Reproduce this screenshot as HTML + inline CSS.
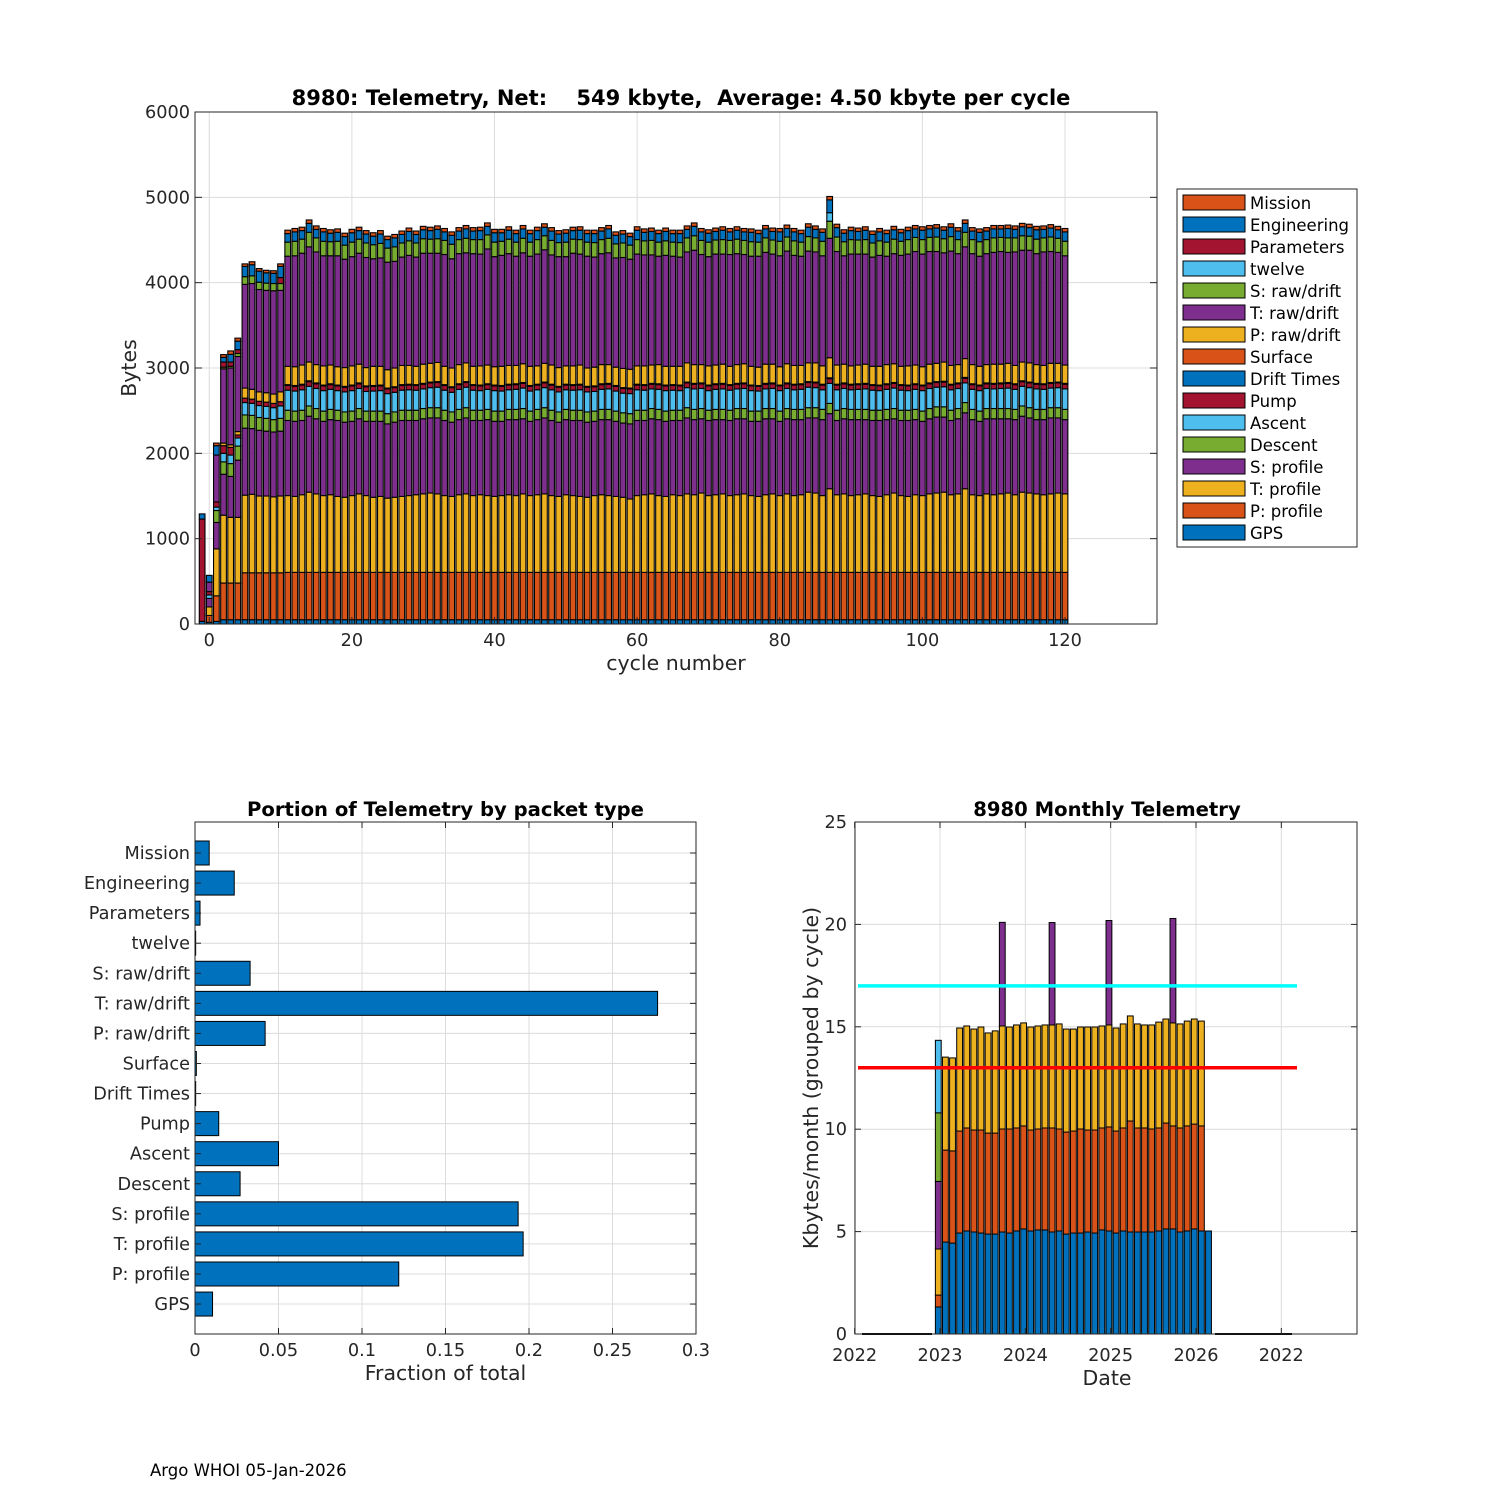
<!DOCTYPE html>
<html><head><meta charset="utf-8"><style>
html,body{margin:0;padding:0;background:#fff;}
svg{display:block;font-family:"DejaVu Sans","Liberation Sans",sans-serif;}
</style></head><body>
<svg id="s" width="1500" height="1500" viewBox="0 0 1500 1500" xmlns="http://www.w3.org/2000/svg">
<rect x="0" y="0" width="1500" height="1500" fill="#fff"/>
<text x="150" y="1476" font-size="16.5" fill="#000">Argo WHOI 05-Jan-2026</text>
</svg>
<script>
// ---------- Top chart data (cycles -1..120) ----------
const cycles = [-1,0,1,2,3,4,5,6,7,8,9,10,
11,12,13,14,15,16,17,18,19,20,21,22,23,24,25,26,27,28,29,30,31,32,33,34,35,36,37,38,39,40,
41,42,43,44,45,46,47,48,49,50,51,52,53,54,55,56,57,58,59,60,61,62,63,64,65,66,67,68,69,70,
71,72,73,74,75,76,77,78,79,80,81,82,83,84,85,86,87,88,89,90,91,92,93,94,95,96,97,98,99,100,
101,102,103,104,105,106,107,108,109,110,111,112,113,114,115,116,117,118,119,120];
const seriesNames = ["GPS","P: profile","T: profile","S: profile","Descent","Ascent","Pump","Drift Times","Surface","P: raw/drift","T: raw/drift","S: raw/drift","twelve","Parameters","Engineering","Mission"];
const seriesColors = ["#0072BD","#D95319","#EDB120","#7E2F8E","#77AC30","#4DBEEE","#A2142F","#0072BD","#D95319","#EDB120","#7E2F8E","#77AC30","#4DBEEE","#A2142F","#0072BD","#D95319"];
const gps = [30,20,30,50,50,50,50,50,50,50,50,50,
50,50,50,50,50,50,50,50,50,50, 50,50,50,50,50,50,50,50,50,50, 50,50,50,50,50,50,50,50,50,50, 50,50,50,50,50,50,50,50,50,50,
50,50,50,50,50,50,50,50,50,50, 50,50,50,50,50,50,50,50,50,50, 50,50,50,50,50,50,50,50,50,50, 50,50,50,50,50,50,50,50,50,50,
50,50,50,50,50,50,50,50,50,50, 50,50,50,50,50,50,50,50,50,50, 50,50,50,50,50,50,50,50,50,50];
const pProfile = [0,80,300,430,430,430,550,550,550,550,550,550,
555,555,555,555,555,555,555,555,555,555, 555,555,555,555,555,555,555,555,555,555, 555,555,555,555,555,555,555,555,555,555, 555,555,555,555,555,555,555,555,555,555,
555,555,555,555,555,555,555,555,555,555, 555,555,555,555,555,555,555,555,555,555, 555,555,555,555,555,555,555,555,555,555, 555,555,555,555,555,555,555,555,555,555,
555,555,555,555,555,555,555,555,555,555, 555,555,555,555,555,555,555,555,555,555, 555,555,555,555,555,555,555,555,555,555];
const tProfile = [0,100,550,795,770,770,910,920,900,900,890,900,
900,890,910,940,920,900,910,890,880,900, 920,900,880,890,870,880,890,900,910,920, 930,920,900,890,910,920,900,910,900,890, 900,910,900,920,900,910,920,900,890,910,
900,890,880,900,910,900,890,880,860,900, 910,920,900,890,910,900,920,910,930,900, 910,920,900,910,920,900,890,910,920,900, 920,900,910,940,930,900,980,910,920,900,
910,920,900,890,910,930,900,890,910,900, 920,930,940,910,920,980,910,900,920,910, 920,930,910,940,930,920,910,920,930,920];
const sProfile = [0,100,310,480,480,670,785,770,770,760,760,760,
880,880,870,890,880,870,880,890,880,870, 880,870,890,880,870,880,890,880,870,880, 880,890,880,870,880,890,880,870,890,880, 870,880,890,880,870,880,890,880,870,880,
880,890,880,870,880,890,880,870,880,880, 870,880,890,880,870,880,890,880,870,880, 880,870,880,890,880,870,880,890,880,870, 880,890,880,870,880,890,880,870,880,890,
880,870,880,890,880,870,880,890,880,870, 880,890,880,870,880,890,880,870,880,890, 880,870,880,890,880,870,880,890,880,870];
const descent = [0,0,140,145,150,165,155,155,150,150,145,150,
120,120,120,120,120,120,120,120,120,120, 120,120,120,120,120,120,120,120,120,120, 120,120,120,120,120,120,120,120,120,120, 120,120,120,120,120,120,120,120,120,120,
120,120,120,120,120,120,120,120,120,120, 120,120,120,120,120,120,120,120,120,120, 120,120,120,120,120,120,120,120,120,120, 120,120,120,120,120,120,120,120,120,120,
120,120,120,120,120,120,120,120,120,120, 120,120,120,120,120,120,120,120,120,120, 120,120,120,120,120,120,120,120,120,120];
const ascent = [0,40,40,100,100,95,145,140,140,140,140,145,
235,235,240,230,235,240,235,230,235,240, 235,230,235,240,235,230,235,240,235,230, 235,240,235,230,235,240,235,230,235,240, 235,230,235,240,235,230,235,240,235,230,
235,240,235,230,235,240,235,230,235,240, 235,230,235,240,235,230,235,240,235,230, 235,240,235,230,235,240,235,230,235,240, 235,230,235,240,235,230,235,240,235,230,
235,240,235,230,235,240,235,230,235,240, 235,230,235,240,235,230,235,240,235,230, 235,240,235,230,235,240,235,230,235,240];
const pump = [0,40,60,90,90,35,52,50,50,50,50,50,
55,55,55,55,55,55,55,55,55,55, 55,55,55,55,55,55,55,55,55,55, 55,55,55,55,55,55,55,55,55,55, 55,55,55,55,55,55,55,55,55,55,
55,55,55,55,55,55,55,55,55,55, 55,55,55,55,55,55,55,55,55,55, 55,55,55,55,55,55,55,55,55,55, 55,55,55,55,55,55,55,55,55,55,
55,55,55,55,55,55,55,55,55,55, 55,55,55,55,55,55,55,55,55,55, 55,55,55,55,55,55,55,55,55,55];
const driftTimes = [0,0,0,0,0,0,0,0,0,0,0,0,
5,5,5,5,5,5,5,5,5,5, 5,5,5,5,5,5,5,5,5,5, 5,5,5,5,5,5,5,5,5,5, 5,5,5,5,5,5,5,5,5,5,
5,5,5,5,5,5,5,5,5,5, 5,5,5,5,5,5,5,5,5,5, 5,5,5,5,5,5,5,5,5,5, 5,5,5,5,5,5,5,5,5,5,
5,5,5,5,5,5,5,5,5,5, 5,5,5,5,5,5,5,5,5,5, 5,5,5,5,5,5,5,5,5,5];
const surface = [0,0,0,0,0,0,0,0,0,0,0,0,
5,5,5,5,5,5,5,5,5,5, 5,5,5,5,5,5,5,5,5,5, 5,5,5,5,5,5,5,5,5,5, 5,5,5,5,5,5,5,5,5,5,
5,5,5,5,5,5,5,5,5,5, 5,5,5,5,5,5,5,5,5,5, 5,5,5,5,5,5,5,5,5,5, 5,5,5,5,5,5,5,5,5,5,
5,5,5,5,5,5,5,5,5,5, 5,5,5,5,5,5,5,5,5,5, 5,5,5,5,5,5,5,5,5,5];
const pRaw = [0,0,0,30,30,40,118,115,110,110,110,115,
215,220,225,220,215,225,220,215,220,225, 220,215,225,220,215,220,225,220,215,225, 220,225,215,220,225,220,215,225,220,215, 225,220,215,220,225,215,220,225,220,215,
220,225,215,220,225,220,215,225,220,215, 220,215,225,220,215,220,225,220,215,225, 220,225,215,220,225,220,215,225,220,215, 225,220,215,220,225,215,235,225,220,215,
220,225,215,220,225,220,215,225,220,215, 220,215,225,220,215,220,225,220,215,225, 220,225,215,220,225,220,215,225,220,215];
const tRaw = [0,110,550,870,900,880,1215,1240,1200,1200,1210,1190,
1290,1300,1310,1350,1320,1290,1280,1300,1270,1280,
1300,1290,1260,1270,1260,1250,1270,1290,1280,1300,
1290,1280,1310,1280,1300,1290,1320,1310,1360,1290,
1300,1310,1280,1300,1290,1310,1330,1290,1300,1280,
1320,1300,1310,1290,1300,1310,1280,1300,1290,1310,
1300,1290,1270,1300,1290,1280,1300,1340,1290,1280,
1300,1290,1310,1300,1280,1290,1300,1310,1290,1300,
1320,1290,1280,1310,1300,1290,1400,1330,1270,1310,
1300,1290,1280,1300,1270,1290,1300,1310,1330,1320,
1320,1310,1280,1340,1300,1310,1300,1290,1300,1310,
1320,1300,1330,1310,1320,1300,1330,1310,1300,1280];
const sRaw = [0,0,0,20,20,35,90,90,85,85,85,80,
165,170,165,170,165,170,165,170,165,170, 165,170,165,170,165,170,165,170,165,170, 165,170,165,170,165,170,165,170,165,170, 165,170,165,170,165,170,165,170,165,170,
165,170,165,170,165,170,165,170,165,170, 165,170,165,170,165,170,165,170,165,170, 165,170,165,170,165,170,165,170,165,170, 165,170,165,170,165,170,200,170,165,170,
165,170,165,170,165,170,165,170,165,170, 165,170,165,170,165,170,165,170,165,170, 165,170,165,170,165,170,165,170,165,170];
const twelve = [0,0,0,0,0,0,0,0,0,0,0,0,
0,0,0,0,0,0,0,0,0,0, 0,0,0,0,0,0,0,0,0,0, 0,0,0,0,0,0,0,0,0,0, 0,0,0,0,0,0,0,0,0,0,
0,0,0,0,0,0,0,0,0,0, 0,0,0,0,0,0,0,0,0,0, 0,0,0,0,0,0,0,0,0,0, 0,0,0,0,0,0,100,0,0,0,
0,0,0,0,0,0,0,0,0,0, 0,0,0,0,0,0,0,0,0,0, 0,0,0,0,0,0,0,0,0,0];
const parameters = [1200,0,0,60,50,45,0,0,0,0,0,70,
0,0,0,0,0,0,0,0,0,0, 0,0,0,0,0,0,0,0,0,0, 0,0,0,0,0,0,0,0,0,0, 0,0,0,0,0,0,0,0,0,0,
0,0,0,0,0,0,0,0,0,0, 0,0,0,0,0,0,0,0,0,0, 0,0,0,0,0,0,0,0,0,0, 0,0,0,0,0,0,0,0,0,0,
0,0,0,0,0,0,0,0,0,0, 0,0,0,0,0,0,0,0,0,0, 0,0,0,0,0,0,0,0,0,0];
const engineering = [60,80,110,55,90,100,120,130,130,120,120,130,
100,110,100,105,100,110,100,105,100,110, 100,105,100,110,100,105,100,110,100,105, 100,110,100,105,100,110,100,105,100,110, 100,105,100,110,100,105,100,110,100,105,
100,110,100,105,100,110,100,105,100,110, 100,105,100,110,100,105,100,110,100,105, 100,110,100,105,100,110,100,105,100,110, 100,105,100,110,100,105,150,110,100,105,
100,110,100,105,100,110,100,105,100,110, 100,105,100,110,100,105,100,110,100,105, 100,110,100,105,100,110,100,105,100,110];
const mission = [0,0,30,32,40,35,30,35,30,30,30,30,
40,40,40,40,40,40,40,40,40,40, 40,40,40,40,40,40,40,40,40,40, 40,40,40,40,40,40,40,40,40,40, 40,40,40,40,40,40,40,40,40,40,
40,40,40,40,40,40,40,40,40,40, 40,40,40,40,40,40,40,40,40,40, 40,40,40,40,40,40,40,40,40,40, 40,40,40,40,40,40,40,40,40,40,
40,40,40,40,40,40,40,40,40,40, 40,40,40,40,40,40,40,40,40,40, 40,40,40,40,40,40,40,40,40,40];
const topYTicks = [0,1000,2000,3000,4000,5000,6000];
const topXTicks = [0,20,40,60,80,100,120];

// ---------- Fraction chart data ----------
const fracCats = ["Mission","Engineering","Parameters","twelve","S: raw/drift","T: raw/drift","P: raw/drift","Surface","Drift Times","Pump","Ascent","Descent","S: profile","T: profile","P: profile","GPS"];
const fracVals = [0.0085,0.0235,0.003,0.0004,0.033,0.277,0.042,0.0008,0.0004,0.0142,0.050,0.027,0.1935,0.1965,0.122,0.0105];
const fracTicks = [0,0.05,0.1,0.15,0.2,0.25,0.3];
const fracTickLabels = ["0","0.05","0.1","0.15","0.2","0.25","0.3"];

// ---------- Monthly chart data (Dec 2022 .. Feb 2026) ----------
const monthStart = 2022.98;
const mBlue = [1.32,4.49,4.44,4.93,5.03,4.98,4.93,4.88,4.88,4.98,4.93,5.03,5.13,5.03,5.08,5.08,4.98,5.03,4.88,4.93,4.93,4.98,4.93,5.08,5.03,4.93,5.03,4.98,4.98,4.98,4.98,5.03,5.13,5.13,4.98,5.03,5.13,5.03,5.03];
const mOrange = [0.58,4.49,4.50,4.98,5.03,4.98,5.03,4.93,4.93,5.03,5.08,5.03,5.03,4.93,4.93,4.98,5.08,4.98,4.98,4.98,5.08,4.98,5.03,4.98,5.08,4.98,5.03,5.42,5.08,5.08,5.03,5.03,5.17,5.03,5.08,5.13,5.12,5.13,0];
const mYellow = [2.25,4.54,4.54,5.03,4.98,4.93,5.03,4.89,4.99,5.03,4.98,5.03,5.03,5.03,5.03,5.03,5.03,5.13,5.03,4.98,4.98,5.03,5.03,4.98,4.98,5.03,5.08,5.13,5.08,5.03,5.08,5.17,5.08,5.03,5.08,5.12,5.13,5.12,0];
const mPurple = [3.3,0,0,0,0,0,0,0,0,5.06,0,0,0,0,0,0,5.0,0,0,0,0,0,0,0,5.1,0,0,0,0,0,0,0,0,5.1,0,0,0,0,0];
const mGreen = [3.35,0,0,0,0,0,0,0,0,0,0,0,0,0,0,0,0,0,0,0,0,0,0,0,0,0,0,0,0,0,0,0,0,0,0,0,0,0,0];
const mLight = [3.54,0,0,0,0,0,0,0,0,0,0,0,0,0,0,0,0,0,0,0,0,0,0,0,0,0,0,0,0,0,0,0,0,0,0,0,0,0,0];
const mYTicks = [0,5,10,15,20,25];
const mXTicks = [2022,2023,2024,2025,2026,2027];
const mXTickLabels = ["2022","2023","2024","2025","2026","2022"];
const limitCyan = 17;
const limitRed = 13;

const NS = "http://www.w3.org/2000/svg";
const svg = document.getElementById('s');
function E(tag, parent){ const e = document.createElementNS(NS, tag); (parent||svg).appendChild(e); return e; }
function A(e, o){ for (const k in o) e.setAttribute(k, o[k]); return e; }
const AX = "#262626", GRID = "#dcdcdc";
const TF = 17.7, LF = 20.5;

// ================= TOP CHART =================
(function(){
  const L=195,R=1157,T=112,B=624;
  const xmin=-2, xmax=132.9, ymax=6000;
  const xs = v => L + (v-xmin)/(xmax-xmin)*(R-L);
  const ys = v => B - v/ymax*(B-T);
  const g = E('g');  
  const bg = A(E('rect',g),{x:L,y:T,width:R-L,height:B-T,fill:'#fff'});
   
  topYTicks.forEach(t=>{
    if(t>0&&t<ymax){ const l=A(E('line',g),{x1:L,x2:R,y1:ys(t),y2:ys(t),stroke:GRID,'stroke-width':1});
        }
  });
  topXTicks.forEach(t=>{
    const l=A(E('line',g),{x1:xs(t),x2:xs(t),y1:T,y2:B,stroke:GRID,'stroke-width':1});
     
  });
  const series=[gps,pProfile,tProfile,sProfile,descent,ascent,pump,driftTimes,surface,pRaw,tRaw,sRaw,twelve,parameters,engineering,mission];
  const bw = 0.8*(xs(1)-xs(0));
  cycles.forEach((c,i)=>{
    let acc=0;
    series.forEach((s,k)=>{
      const v=s[i]; if(!v) return;
      const r=A(E('rect',g),{x:xs(c)-bw/2,y:ys(acc+v),width:bw,height:ys(acc)-ys(acc+v),fill:seriesColors[k],stroke:'#000','stroke-width':1.1});
      
      
      acc+=v;
    });
  });
  const box=A(E('rect',g),{x:L,y:T,width:R-L,height:B-T,fill:'none',stroke:AX,'stroke-width':1});
   
  topYTicks.forEach(t=>{
    const tk=A(E('line',g),{x1:L,x2:L+7,y1:ys(t),y2:ys(t),stroke:AX});  
    const tk2=A(E('line',g),{x1:R-7,x2:R,y1:ys(t),y2:ys(t),stroke:AX});  
    const tx=A(E('text',g),{x:L-5,y:ys(t)+6,'text-anchor':'end','font-size':TF,fill:AX}); tx.textContent=t;
     
  });
  topXTicks.forEach(t=>{
    const tk=A(E('line',g),{x1:xs(t),x2:xs(t),y1:B,y2:B-7,stroke:AX});  
    const tx=A(E('text',g),{x:xs(t),y:B+22,'text-anchor':'middle','font-size':TF,fill:AX}); tx.textContent=t;
     
  });
  const xl=A(E('text',g),{x:(L+R)/2,y:670,'text-anchor':'middle','font-size':LF,fill:AX}); xl.textContent='cycle number';
   
  const yl=A(E('text',g),{x:0,y:0,'text-anchor':'middle','font-size':LF,fill:AX,transform:`translate(136,368) rotate(-90)`}); yl.textContent='Bytes';
   
  const ti=A(E('text',g),{x:681,y:105,'text-anchor':'middle','font-size':21,'font-weight':'bold',fill:'#000'}); ti.textContent='8980: Telemetry, Net:    549 kbyte,  Average: 4.50 kbyte per cycle';
  ti.style.whiteSpace='pre';
   
  // legend
  const lg=E('g',g);  
  const lb=A(E('rect',lg),{x:1177,y:189,width:180,height:358,fill:'#fff',stroke:AX,'stroke-width':1});
   
  for(let k=seriesNames.length-1,j=0;k>=0;k--,j++){
    const y=195+j*22;
    const sw=A(E('rect',lg),{x:1183,y:y,width:62,height:15,fill:seriesColors[k],stroke:'#000','stroke-width':1});
     
    const tx=A(E('text',lg),{x:1250,y:y+14,'font-size':16.5,fill:'#000'}); tx.textContent=seriesNames[k];
     
  }
})();

// ================= FRACTION CHART =================
(function(){
  const L=195,R=696,T=822,B=1334, xmax=0.3;
  const xs=v=>L+v/xmax*(R-L);
  const yc=i=>853+i*30.07;
  const g=E('g');  
  fracTicks.forEach(t=>{
    if(t>0&&t<xmax){const l=A(E('line',g),{x1:xs(t),x2:xs(t),y1:T,y2:B,stroke:GRID});  }
  });
  fracCats.forEach((c,i)=>{
    const l=A(E('line',g),{x1:L,x2:R,y1:yc(i),y2:yc(i),stroke:GRID});  
  });
  fracCats.forEach((c,i)=>{
    const r=A(E('rect',g),{x:L,y:yc(i)-12,width:xs(fracVals[i])-L,height:24,fill:'#0072BD',stroke:'#000','stroke-width':1});
     
    const tk=A(E('line',g),{x1:L,x2:L+6,y1:yc(i),y2:yc(i),stroke:AX});  
    const tk2=A(E('line',g),{x1:R-6,x2:R,y1:yc(i),y2:yc(i),stroke:AX});  
    const tx=A(E('text',g),{x:L-5,y:yc(i)+6,'text-anchor':'end','font-size':TF,fill:AX}); tx.textContent=c;
     
  });
  const box=A(E('rect',g),{x:L,y:T,width:R-L,height:B-T,fill:'none',stroke:AX});  
  fracTicks.forEach((t,i)=>{
    const tk=A(E('line',g),{x1:xs(t),x2:xs(t),y1:B,y2:B-6,stroke:AX});  
    const tk2=A(E('line',g),{x1:xs(t),x2:xs(t),y1:T,y2:T+6,stroke:AX});  
    const tx=A(E('text',g),{x:xs(t),y:B+22,'text-anchor':'middle','font-size':TF,fill:AX}); tx.textContent=fracTickLabels[i];
     
  });
  const xl=A(E('text',g),{x:(L+R)/2,y:1380,'text-anchor':'middle','font-size':LF,fill:AX}); xl.textContent='Fraction of total';
   
  const ti=A(E('text',g),{x:(L+R)/2,y:816,'text-anchor':'middle','font-size':19.6,'font-weight':'bold',fill:'#000'}); ti.textContent='Portion of Telemetry by packet type';
   
})();

// ================= MONTHLY CHART =================
(function(){
  const L=855,R=1357,T=822,B=1334, ymax=25;
  const xs=yr=>940+(yr-2023)*85.33;
  const ys=v=>B-v/ymax*(B-T);
  const g=E('g');  
  mYTicks.forEach(t=>{ if(t>0&&t<ymax){const l=A(E('line',g),{x1:L,x2:R,y1:ys(t),y2:ys(t),stroke:GRID});  }});
  mXTicks.forEach(t=>{ const l=A(E('line',g),{x1:xs(t),x2:xs(t),y1:T,y2:B,stroke:GRID});  });
  const z1=A(E('line',g),{x1:862,x2:932,y1:B,y2:B,stroke:'#000','stroke-width':2});  
  const z2=A(E('line',g),{x1:1215,x2:1292,y1:B,y2:B,stroke:'#000','stroke-width':2});  
  const ms=[mBlue,mOrange,mYellow,mPurple,mGreen,mLight];
  const mc=["#0072BD","#D95319","#EDB120","#7E2F8E","#77AC30","#4DBEEE"];
  const bw=0.82*85.33/12;
  mBlue.forEach((_,i)=>{
    const cx=xs(monthStart+i/12); let acc=0;
    ms.forEach((s,k)=>{ const v=s[i]; if(!v) return;
      const r=A(E('rect',g),{x:cx-bw/2,y:ys(acc+v),width:bw,height:ys(acc)-ys(acc+v),fill:mc[k],stroke:'#000','stroke-width':1});
      
      
      acc+=v; });
  });
  const lc=A(E('line',g),{x1:858,x2:1297,y1:ys(limitCyan),y2:ys(limitCyan),stroke:'#00FFFF','stroke-width':3.5});  
  const lr=A(E('line',g),{x1:858,x2:1297,y1:ys(limitRed),y2:ys(limitRed),stroke:'#FF0000','stroke-width':3.5});  
  const box=A(E('rect',g),{x:L,y:T,width:R-L,height:B-T,fill:'none',stroke:AX});  
  mYTicks.forEach(t=>{
    const tk=A(E('line',g),{x1:L,x2:L+6,y1:ys(t),y2:ys(t),stroke:AX});  
    const tk2=A(E('line',g),{x1:R-6,x2:R,y1:ys(t),y2:ys(t),stroke:AX});  
    const tx=A(E('text',g),{x:L-8,y:ys(t)+6,'text-anchor':'end','font-size':TF,fill:AX}); tx.textContent=t;
     
  });
  mXTicks.forEach((t,i)=>{
    const tk=A(E('line',g),{x1:xs(t),x2:xs(t),y1:B,y2:B-6,stroke:AX});  
    const tk2=A(E('line',g),{x1:xs(t),x2:xs(t),y1:T,y2:T+6,stroke:AX});  
    const tx=A(E('text',g),{x:xs(t),y:B+27,'text-anchor':'middle','font-size':TF,fill:AX}); tx.textContent=mXTickLabels[i];
     
  });
  const xl=A(E('text',g),{x:1107,y:1385,'text-anchor':'middle','font-size':LF,fill:AX}); xl.textContent='Date';
   
  const yl=A(E('text',g),{x:0,y:0,'text-anchor':'middle','font-size':LF,fill:AX,transform:'translate(818,1078) rotate(-90)'}); yl.textContent='Kbytes/month (grouped by cycle)';
   
  const ti=A(E('text',g),{x:1107,y:816,'text-anchor':'middle','font-size':19.6,'font-weight':'bold',fill:'#000'}); ti.textContent='8980 Monthly Telemetry';
   
})();
</script>
</body></html>
